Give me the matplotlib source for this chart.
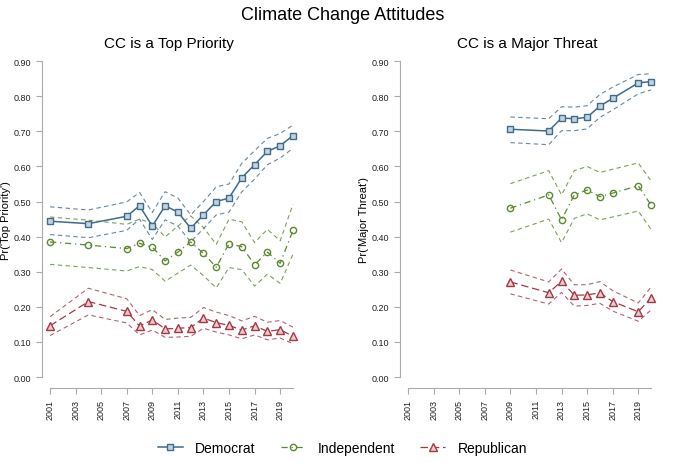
import matplotlib
matplotlib.use('Agg')
import matplotlib.pyplot as plt

plt.rcParams['font.family'] = ['Liberation Sans', 'DejaVu Sans']

# --- CC is a Top Priority ---
years_tp = [2001, 2004, 2007, 2008, 2009, 2010, 2011, 2012, 2013, 2014, 2015, 2016, 2017, 2018, 2019, 2020]
dem_tp = [0.444, 0.437, 0.458, 0.488, 0.430, 0.488, 0.470, 0.424, 0.462, 0.500, 0.510, 0.568, 0.605, 0.643, 0.659, 0.688]
dem_tp_hi = [0.485, 0.476, 0.499, 0.526, 0.469, 0.528, 0.510, 0.462, 0.500, 0.542, 0.550, 0.609, 0.645, 0.680, 0.694, 0.718]
dem_tp_lo = [0.406, 0.397, 0.418, 0.450, 0.392, 0.448, 0.430, 0.385, 0.423, 0.462, 0.470, 0.528, 0.564, 0.605, 0.624, 0.652]
ind_tp = [0.385, 0.376, 0.366, 0.381, 0.370, 0.331, 0.356, 0.385, 0.352, 0.313, 0.380, 0.371, 0.320, 0.356, 0.324, 0.418]
ind_tp_hi = [0.456, 0.447, 0.435, 0.450, 0.438, 0.399, 0.430, 0.459, 0.426, 0.378, 0.450, 0.442, 0.383, 0.421, 0.388, 0.492]
ind_tp_lo = [0.321, 0.312, 0.302, 0.315, 0.306, 0.273, 0.296, 0.319, 0.289, 0.254, 0.312, 0.306, 0.259, 0.293, 0.267, 0.350]
rep_tp = [0.146, 0.215, 0.187, 0.145, 0.163, 0.137, 0.139, 0.141, 0.168, 0.155, 0.147, 0.134, 0.146, 0.130, 0.135, 0.116]
rep_tp_hi = [0.172, 0.253, 0.223, 0.175, 0.192, 0.164, 0.168, 0.170, 0.198, 0.185, 0.175, 0.160, 0.173, 0.156, 0.161, 0.142]
rep_tp_lo = [0.118, 0.177, 0.154, 0.120, 0.134, 0.113, 0.114, 0.116, 0.139, 0.128, 0.120, 0.109, 0.120, 0.106, 0.111, 0.095]

# --- CC is a Major Threat ---
years_mt = [2009, 2012, 2013, 2014, 2015, 2016, 2017, 2019, 2020]
dem_mt = [0.706, 0.701, 0.738, 0.736, 0.740, 0.772, 0.794, 0.838, 0.842]
dem_mt_hi = [0.741, 0.736, 0.770, 0.769, 0.773, 0.805, 0.826, 0.862, 0.864]
dem_mt_lo = [0.668, 0.662, 0.702, 0.702, 0.707, 0.740, 0.761, 0.807, 0.818]
ind_mt = [0.481, 0.519, 0.448, 0.519, 0.533, 0.514, 0.524, 0.545, 0.490]
ind_mt_hi = [0.551, 0.588, 0.519, 0.588, 0.600, 0.583, 0.592, 0.610, 0.559]
ind_mt_lo = [0.413, 0.450, 0.383, 0.452, 0.465, 0.448, 0.456, 0.473, 0.421]
rep_mt = [0.271, 0.240, 0.273, 0.233, 0.234, 0.240, 0.215, 0.186, 0.225]
rep_mt_hi = [0.305, 0.271, 0.308, 0.263, 0.263, 0.272, 0.246, 0.211, 0.256]
rep_mt_lo = [0.237, 0.208, 0.241, 0.202, 0.204, 0.210, 0.188, 0.159, 0.191]

xticks = list(range(2001, 2020, 2))
yticks = [0.0, 0.1, 0.2, 0.3, 0.4, 0.5, 0.6, 0.7, 0.8, 0.9]

DEM = '#3f6b8c'
IND = '#5b8a2e'
REP = '#a13a45'
AXC = '#aaaaaa'


def draw_panel(ax, years, dem, dem_hi, dem_lo, ind, ind_hi, ind_lo, rep, rep_hi, rep_lo, title, ylabel):
    # spines first: set_position resets the tick settings
    for s in ['top', 'right']:
        ax.spines[s].set_visible(False)
    ax.spines['left'].set_color(AXC)
    ax.spines['bottom'].set_color(AXC)
    ax.spines['bottom'].set_position(('outward', 8))
    ax.spines['bottom'].set_bounds(2001, 2020)

    ci = dict(lw=0.8, ls=(0, (4, 3)), alpha=0.8)
    ax.plot(years, dem_hi, color=DEM, **ci)
    ax.plot(years, dem_lo, color=DEM, **ci)
    ax.plot(years, ind_hi, color=IND, **ci)
    ax.plot(years, ind_lo, color=IND, **ci)
    ax.plot(years, rep_hi, color=REP, **ci)
    ax.plot(years, rep_lo, color=REP, **ci)

    ax.plot(years, dem, color=DEM, lw=1.1, marker='s', ms=5, mfc='#c4d3e0', mec=DEM, mew=1.0,
            label='Democrat')
    ax.plot(years, ind, color=IND, lw=0.9, ls=(0, (5, 3, 1, 3)), marker='o', ms=4.5, mfc='none',
            mec=IND, mew=1.0, label='Independent')
    ax.plot(years, rep, color=REP, lw=0.9, ls=(0, (6, 3)), marker='^', ms=5.5, mfc='#eccacd',
            mec=REP, mew=1.0, label='Republican')

    ax.set_xlim(2000.37, 2020.3)
    ax.set_ylim(0, 0.9)
    ax.set_xticks(xticks)
    ax.set_xticklabels([str(x) for x in xticks], rotation=90, fontsize=6.5)
    ax.set_yticks(yticks)
    ax.set_yticklabels(['%.2f' % v for v in yticks], fontsize=6.5)
    ax.tick_params(colors=AXC, labelcolor='#222222', length=4, width=0.8)
    ax.set_title(title, fontsize=11, pad=10)
    ax.set_ylabel(ylabel, fontsize=8)
    ax.yaxis.set_label_coords(-0.12, 0.5)
    for line in ax.lines:
        line.set_clip_on(False)


fig = plt.figure(figsize=(6.85, 4.64), dpi=100)
ax1 = fig.add_axes([0.0613, 0.1853, 0.372, 0.6807])
ax2 = fig.add_axes([0.584, 0.1853, 0.372, 0.6807])

draw_panel(ax1, years_tp, dem_tp, dem_tp_hi, dem_tp_lo, ind_tp, ind_tp_hi, ind_tp_lo,
           rep_tp, rep_tp_hi, rep_tp_lo, 'CC is a Top Priority', "Pr('Top Priority')")
draw_panel(ax2, years_mt, dem_mt, dem_mt_hi, dem_mt_lo, ind_mt, ind_mt_hi, ind_mt_lo,
           rep_mt, rep_mt_hi, rep_mt_lo, 'CC is a Major Threat', "Pr('Major Threat')")

fig.suptitle('Climate Change Attitudes', fontsize=13, y=0.985)

handles, labels = ax1.get_legend_handles_labels()
fig.legend(handles, labels, loc='center', bbox_to_anchor=(0.5, 0.032), ncol=3, frameon=False,
           fontsize=10, handlelength=1.8, handletextpad=0.9, columnspacing=1.8)

fig.savefig('out.png', dpi=100)
